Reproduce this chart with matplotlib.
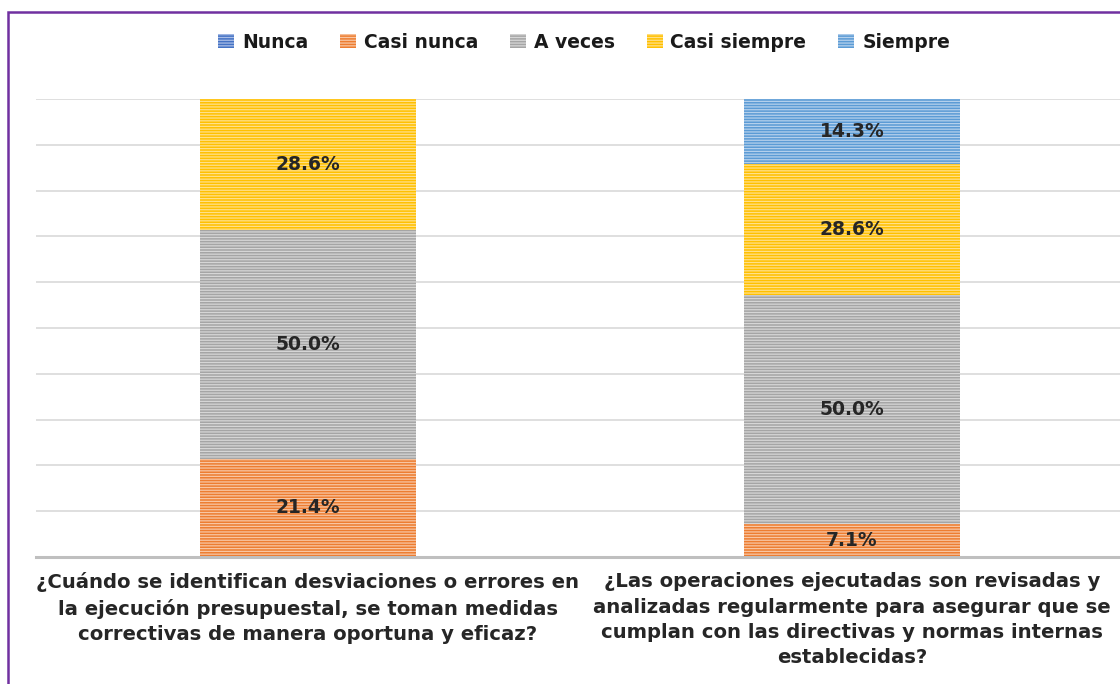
import matplotlib
matplotlib.use("Agg")
import matplotlib.pyplot as plt
from matplotlib.patches import Rectangle, Patch
import matplotlib.transforms as mtransforms

plt.rcParams['font.family'] = ['DejaVu Sans']
plt.rcParams['hatch.linewidth'] = 0.9

categories = [
    "¿Cuándo se identifican desviaciones o errores en\nla ejecución presupuestal, se toman medidas\ncorrectivas de manera oportuna y eficaz?",
    "¿Las operaciones ejecutadas son revisadas y\nanalizadas regularmente para asegurar que se\ncumplan con las directivas y normas internas\nestablecidas?",
]
series_names = ["Nunca", "Casi nunca", "A veces", "Casi siempre", "Siempre"]
nunca = [0.0, 0.0]
casi_nunca = [21.4, 7.1]
a_veces = [50.0, 50.0]
casi_siempre = [28.6, 28.6]
siempre = [0.0, 14.3]
series_values = [nunca, casi_nunca, a_veces, casi_siempre, siempre]

colors = ["#4472C4", "#ED7D31", "#A5A5A5", "#FFC000", "#5B9BD5"]
hatch_colors = ["#A9BDE6", "#F8C6A3", "#D6D6D6", "#FFE08A", "#B4D0EC"]

fig = plt.figure(figsize=(11.2, 6.84), dpi=100)
ax = fig.add_axes([36/1120, 127/684, 1088/1120, 458/684])

x = list(range(len(categories)))
bottoms = [0.0] * len(categories)
for name, vals, c, hc in zip(series_names, series_values, colors, hatch_colors):
    ax.bar(x, vals, width=0.397, bottom=bottoms, color=c, edgecolor=hc,
           linewidth=0, hatch='------', zorder=3)
    for xi, v, b in zip(x, vals, bottoms):
        if v > 0:
            ax.text(xi, b + v / 2, f"{v:.1f}%", ha='center', va='center',
                    fontsize=13.5, fontweight='bold', color='#262626', zorder=4)
    bottoms = [b + v for b, v in zip(bottoms, vals)]

ax.set_xlim(-0.5, 1.5)
ax.set_ylim(0, 100)
ax.set_yticks(range(0, 101, 10))
ax.yaxis.grid(True, color='#D9D9D9', linewidth=1.2, zorder=0)
ax.tick_params(left=False, labelleft=False, bottom=False, labelbottom=False)
for s in ['left', 'right', 'top']:
    ax.spines[s].set_visible(False)
ax.spines['bottom'].set_color('#BFBFBF')
ax.spines['bottom'].set_linewidth(2.2)
ax.spines['bottom'].set_zorder(5)

trans = mtransforms.blended_transform_factory(ax.transData, ax.transAxes)
for xi, lab in zip(x, categories):
    ax.text(xi, -0.033, lab, transform=trans, ha='center', va='top',
            fontsize=14.1, fontweight='bold', color='#262626', linespacing=1.43)

handles = [Patch(facecolor=c, edgecolor=hc, hatch='------', linewidth=0)
           for c, hc in zip(colors, hatch_colors)]
leg = fig.legend(handles, series_names, loc='center', bbox_to_anchor=(584/1120, 1 - 42/684),
                 ncol=5, frameon=False, handlelength=0.85, handleheight=0.8,
                 handletextpad=0.42, columnspacing=1.7, prop={'weight': 'bold', 'size': 13.5})
for t in leg.get_texts():
    t.set_color('#1A1A1A')

border = Rectangle((8/1120, -0.05), 1.2, 1 - 12/684 + 0.05, transform=fig.transFigure,
                   fill=False, edgecolor='#7030A0', linewidth=1.8)
fig.patches.append(border)

fig.savefig("out.png", dpi=100)
